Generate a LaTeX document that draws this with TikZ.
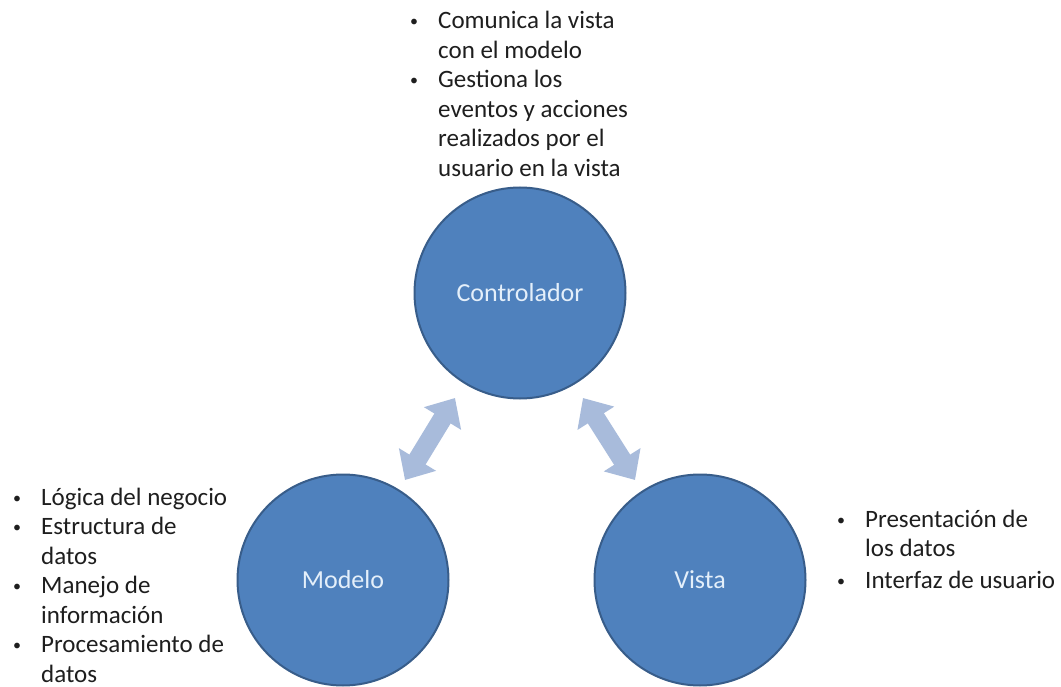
\documentclass[tikz,border=0pt]{standalone}
\usepackage{fontspec}
\setmainfont{Carlito}
\usetikzlibrary{arrows.meta}
\definecolor{circfill}{RGB}{79,129,189}
\definecolor{circdraw}{RGB}{56,93,138}
\definecolor{circtext}{RGB}{228,239,250}
\definecolor{arrowfill}{RGB}{168,187,219}
\definecolor{txt}{RGB}{30,30,30}
\newcommand\blt{\makebox[29pt][l]{\hspace{1pt}\raisebox{2pt}{\fontsize{16}{16}\selectfont\textbullet}}}
\newcommand\nob{\makebox[29pt][l]{}}
\begin{document}
\begin{tikzpicture}[x=1pt,y=-1pt,
  mvc/.style={circle, fill=circfill, draw=circdraw, line width=2pt,
    minimum size=211pt, inner sep=0pt, text=circtext,
    font=\fontsize{26}{31}\selectfont},
  bullets/.style={anchor=base west, inner sep=0pt, text=txt,
    font=\fontsize{25}{29.5}\selectfont},
  link/.style={line width=19pt, draw=arrowfill,
    {Triangle[length=24pt,width=42pt]}-{Triangle[length=24pt,width=42pt]}}]
\useasboundingbox (0,0) rectangle (1061,687);
\fill[white] (0,0) rectangle (1061,687);

\node[mvc] (ctrl) at (520,293) {\raisebox{-3pt}{Controlador}};
\node[mvc] (modelo) at (343,580) {\raisebox{-2pt}{Modelo}};
\node[mvc] (vista) at (700,580) {\raisebox{-2pt}{Vista}};

\coordinate (lA) at (405,480);
\coordinate (lB) at (455,398);
\coordinate (rA) at (583,398);
\coordinate (rB) at (635,480);
\draw[link] (lA) -- (lB);
\draw[link] (rA) -- (rB);

\node[bullets] (ctrltxt) at (409,29) {\begin{tabular}[t]{@{}l@{}l@{}}
\blt & Comunica la vista\\
\nob & con el modelo\\
\blt & Gestiona los\\
\nob & eventos y acciones\\
\nob & realizados por el\\
\nob & usuario en la vista
\end{tabular}};

\node[bullets] (modtxt) at (12,505) {\begin{tabular}[t]{@{}l@{}l@{}}
\blt & Lógica del negocio\\
\blt & Estructura de\\
\nob & datos\\
\blt & Manejo de\\
\nob & información\\
\blt & Procesamiento de\\
\nob & datos
\end{tabular}};

\node[bullets] (vistxt) at (836,527) {\begin{tabular}[t]{@{}l@{}l@{}}
\blt & Presentación de\\
\nob & los datos\\[2pt]
\blt & Interfaz de usuario
\end{tabular}};
\end{tikzpicture}
\end{document}
